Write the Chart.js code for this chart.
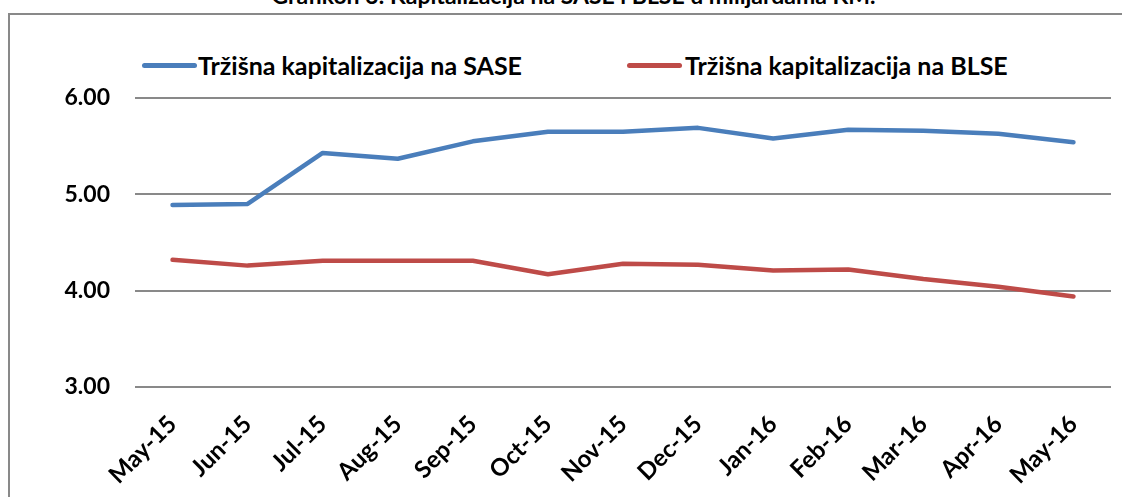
<!DOCTYPE html>
<html lang="hr">

<head>
    <meta charset="UTF-8">
    <title>Grafikon 3</title>
    <script src="https://cdn.jsdelivr.net/npm/chart.js"></script>
    <style>
        body { margin: 0; background: #fff; }
        .wrap { position: relative; width: 1122px; height: 497px; overflow: hidden; font-family: Lato, "DejaVu Sans", sans-serif; font-weight: bold; }
        .frame { position: absolute; left: 8px; top: 13px; width: 1300px; height: 700px; border-top: 2px solid #898989; border-left: 2px solid #898989; }
        .naslov { position: absolute; left: 0; width: 1147px; top: -16px; line-height: 23px; text-align: center; font-size: 23px; color: #000; white-space: nowrap; }
        .leg { position: absolute; top: 50px; height: 30px; line-height: 30px; font-size: 25px; color: #000; white-space: nowrap; }
        .leg span { position: absolute; left: 0; top: 13px; width: 55px; height: 5px; border-radius: 3px; }
        canvas { position: absolute; left: 0; top: 0; }
    </style>
</head>

<body>
    <div class="wrap">
        <div class="naslov">Grafikon 3: Kapitalizacija na SASE i BLSE u milijardama KM.</div>
        <div class="frame"></div>
        <div class="leg" style="left:142px; padding-left:56px"><span style="background:#4A7EBB"></span>Tržišna kapitalizacija na SASE</div>
        <div class="leg" style="left:627px; padding-left:58px"><span style="background:#BE4B48"></span>Tržišna kapitalizacija na BLSE</div>
        <canvas id="grafikon" width="1122" height="497"></canvas>
    </div>
</body>
<script>
    const mjeseci = ['May-15', 'Jun-15', 'Jul-15', 'Aug-15', 'Sep-15', 'Oct-15', 'Nov-15',
        'Dec-15', 'Jan-16', 'Feb-16', 'Mar-16', 'Apr-16', 'May-16'];
    const sase = [4.89, 4.90, 5.43, 5.37, 5.55, 5.65, 5.65, 5.69, 5.58, 5.67, 5.66, 5.63, 5.54];
    const blse = [4.32, 4.26, 4.31, 4.31, 4.31, 4.17, 4.28, 4.27, 4.21, 4.22, 4.12, 4.04, 3.94];
    const yTicks = [3, 4, 5, 6];

    const podaci = {
        labels: mjeseci,
        datasets: [{
            label: 'Tržišna kapitalizacija na SASE',
            data: sase,
            borderColor: '#4A7EBB',
            backgroundColor: '#4A7EBB',
            borderWidth: 4.5,
            borderCapStyle: 'round',
            borderJoinStyle: 'round',
            pointRadius: 0,
            tension: 0
        }, {
            label: 'Tržišna kapitalizacija na BLSE',
            data: blse,
            borderColor: '#BE4B48',
            backgroundColor: '#BE4B48',
            borderWidth: 4.5,
            borderCapStyle: 'round',
            borderJoinStyle: 'round',
            pointRadius: 0,
            tension: 0
        }]
    };

    new Chart('grafikon', {
        type: 'line',
        data: podaci,
        options: {
            responsive: false,
            animation: false,
            devicePixelRatio: 1,
            layout: { padding: { top: 98, right: 11, left: 0, bottom: 0 } },
            plugins: { legend: { display: false }, tooltip: { enabled: false } },
            scales: {
                x: {
                    offset: true,
                    grid: { display: false },
                    border: { display: false },
                    ticks: {
                        maxRotation: 45, minRotation: 45, padding: 15,
                        color: '#000',
                        font: { family: 'Lato', weight: 'bold', size: 24 }
                    },
                    afterFit: function (s) { s.height = 110; }
                },
                y: {
                    min: 3, max: 6,
                    afterBuildTicks: function (s) { s.ticks = yTicks.map(v => ({ value: v })); },
                    grid: { color: '#898989', lineWidth: 2, drawTicks: false },
                    border: { display: false },
                    ticks: {
                        padding: 25,
                        color: '#000',
                        font: { family: 'Lato', weight: 'bold', size: 23 },
                        callback: v => Number(v).toFixed(2)
                    },
                    afterFit: function (s) { s.width = 135; }
                }
            }
        }
    });
</script>
</html>
